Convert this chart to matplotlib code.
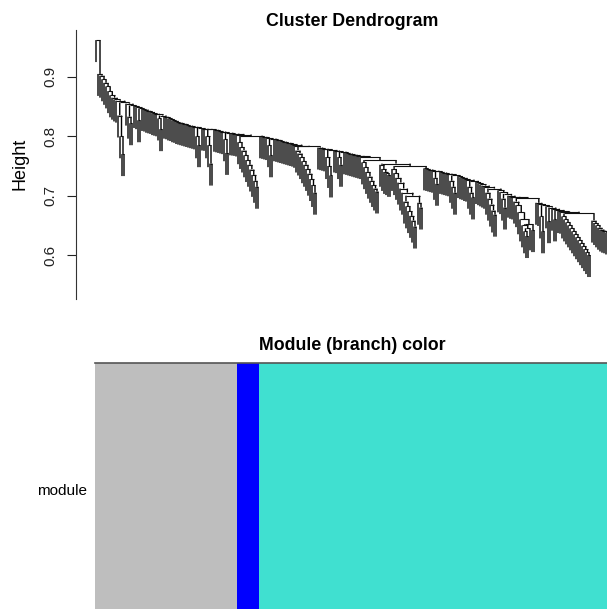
import numpy as np
import matplotlib
matplotlib.use('Agg')
import matplotlib.pyplot as plt
from matplotlib.collections import LineCollection

plt.rcParams['font.family'] = ['Liberation Sans', 'DejaVu Sans']

# height at which each leaf meets its right-hand neighbour, read left to right
grey_gaps = [0.962, 0.905, 0.902, 0.896, 0.890, 0.884, 0.876, 0.869,
             0.865, 0.862, 0.860, 0.835, 0.800, 0.770, 0.857, 0.855, 0.833, 0.822,
             0.852, 0.851, 0.849, 0.827, 0.847, 0.846, 0.845, 0.843, 0.842, 0.841,
             0.839, 0.838, 0.837, 0.830, 0.812, 0.835, 0.833, 0.832, 0.830, 0.829,
             0.827, 0.826, 0.824, 0.823, 0.822, 0.821, 0.820, 0.819, 0.818, 0.817,
             0.816, 0.815, 0.800, 0.785, 0.814, 0.813, 0.8125, 0.800, 0.785, 0.754,
             0.812, 0.811, 0.810, 0.809, 0.808, 0.807, 0.795, 0.772, 0.806, 0.805,
             0.8045, 0.804]
grey_blue_join = 0.803
blue_gaps = [0.790, 0.782, 0.776, 0.768, 0.760, 0.752, 0.744, 0.735, 0.725, 0.715]
blue_turquoise_join = 0.801
turquoise_gaps = [
    0.800, 0.799, 0.798, 0.797, 0.785, 0.768, 0.796, 0.795, 0.794, 0.793, 0.792,
    0.791, 0.790, 0.789, 0.788, 0.787, 0.786, 0.784,
    0.776, 0.771, 0.765, 0.758, 0.752, 0.745, 0.737, 0.728, 0.718, 0.705, 0.783,
    0.781, 0.780, 0.779, 0.778, 0.765, 0.750, 0.734, 0.777, 0.776, 0.775, 0.765,
    0.752, 0.774, 0.773, 0.772, 0.771, 0.770, 0.769, 0.768, 0.767, 0.766, 0.765,
    0.756, 0.748, 0.740, 0.732, 0.725, 0.718, 0.712, 0.707, 0.760,
    0.752, 0.745, 0.740, 0.738, 0.735, 0.754,
    0.745, 0.738, 0.730, 0.722, 0.712, 0.705, 0.690, 0.682, 0.674, 0.666, 0.658,
    0.648, 0.700, 0.688, 0.680, 0.750,
    0.746, 0.745, 0.744, 0.743, 0.742, 0.730, 0.720, 0.741, 0.740, 0.739, 0.738,
    0.737, 0.736, 0.725, 0.715, 0.705, 0.734, 0.733, 0.731, 0.730, 0.728, 0.727,
    0.715, 0.705, 0.697, 0.725, 0.723, 0.721, 0.719, 0.717, 0.715, 0.705, 0.695,
    0.685, 0.675, 0.668, 0.712, 0.709, 0.706, 0.695, 0.680, 0.703, 0.700, 0.698,
    0.697,
    0.690, 0.684, 0.672, 0.660, 0.650, 0.640, 0.632, 0.645, 0.652, 0.642, 0.696,
    0.688, 0.686, 0.665, 0.640, 0.684, 0.682, 0.657, 0.680, 0.678, 0.660, 0.676,
    0.674, 0.673,
    0.665, 0.660, 0.655, 0.650, 0.645, 0.640, 0.635, 0.630, 0.625, 0.620, 0.615,
    0.610, 0.605, 0.600, 0.670,
    0.658, 0.654, 0.650, 0.646, 0.643, 0.641, 0.640, 0.638]

module_names = ['grey', 'blue', 'turquoise']
module_colors = ['#BEBEBE', '#0000FF', '#40E0D0']
module_sizes = [len(grey_gaps) + 1, len(blue_gaps) + 1, len(turquoise_gaps) + 1]
hang = 0.037
y_ticks = [0.6, 0.7, 0.8, 0.9]

gaps = grey_gaps + [grey_blue_join] + blue_gaps + [blue_turquoise_join] + turquoise_gaps
n = len(gaps) + 1

h_segs = []
v_segs = []


def build(lo, hi):
    # node over leaves lo..hi: split where neighbours meet highest
    if lo == hi:
        return lo + 1.0, None
    k = lo + int(np.argmax(gaps[lo:hi]))
    h = gaps[k]
    xl, hl = build(lo, k)
    xr, hr = build(k + 1, hi)
    h_segs.append([(xl, h), (xr, h)])
    v_segs.append([(xl, h), (xl, h - hang if hl is None else hl)])
    v_segs.append([(xr, h), (xr, h - hang if hr is None else hr)])
    return (xl + xr) / 2, h


build(0, n - 1)

fig = plt.figure(figsize=(6.07, 6.09), dpi=100)
L = 95 / 607
W = 514 / 607

ax = fig.add_axes([L, (609 - 299) / 609, W, 269 / 609])
vl = LineCollection(v_segs, colors='#000000', linewidths=1.0, capstyle='butt')
vl.set_snap(False)
ax.add_collection(vl)
ax.add_collection(LineCollection(h_segs, colors='#111111', linewidths=0.8))
ax.set_xlim(0.5, n + 0.5)
ax.set_ylim(0.526, 0.979)
for s in ['top', 'right', 'bottom']:
    ax.spines[s].set_visible(False)
ax.spines['left'].set_position(('outward', 13.7))
ax.spines['left'].set_color('#333333')
ax.set_xticks([])
ax.set_yticks(y_ticks)
ax.set_yticklabels([str(t) for t in y_ticks], rotation=90, va='center', fontsize=11)
ax.tick_params(axis='y', direction='out', length=6.5, width=0.8, pad=7, colors='#222222')

fig.text(20 / 607, (609 - 164) / 609, 'Height', rotation=90, ha='center', va='center', fontsize=13)
fig.text(352 / 607, (609 - 22) / 609, 'Cluster Dendrogram', ha='center', va='center',
         fontsize=12.8, fontweight='bold')

# module colour bar
leaf_colors = []
for c, size in zip(module_colors, module_sizes):
    leaf_colors += [c] * size
bx = fig.add_axes([L, (609 - 619) / 609, W, 256 / 609])
bx.bar(np.arange(1, n + 1), 1, width=1.0, color=leaf_colors, linewidth=0, align='center')
bx.set_xlim(0.5, n + 0.5)
bx.set_ylim(0, 1)
bx.set_xticks([])
bx.set_yticks([])
for s in ['left', 'right', 'bottom']:
    bx.spines[s].set_visible(False)
bx.spines['top'].set_color('#555555')
bx.spines['top'].set_linewidth(1.2)
bx.text(-0.016, 0.5, 'module', transform=bx.transAxes, ha='right', va='center', fontsize=11)
fig.text(352 / 607, (609 - 345) / 609, 'Module (branch) color', ha='center', va='center',
         fontsize=12.8, fontweight='bold')

fig.savefig('out.png', dpi=100)
